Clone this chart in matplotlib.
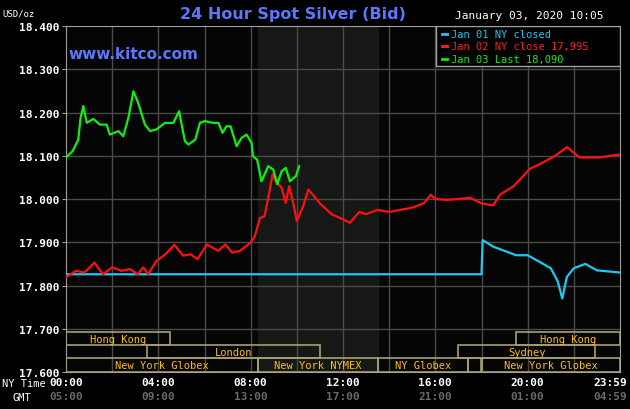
import matplotlib
matplotlib.use('Agg')
import matplotlib.pyplot as plt
from matplotlib.patches import Rectangle

# hours since 00:00 NY time, price in USD/oz
green_t = [0, 0.29, 0.53, 0.63, 0.75, 0.9, 1.18, 1.47, 1.76, 1.9, 2.27, 2.48, 2.7, 2.92, 3.13,
           3.42, 3.64, 3.92, 4.29, 4.65, 4.9, 5.15, 5.3, 5.6, 5.8, 6.0, 6.38, 6.6, 6.78, 6.95,
           7.13, 7.39, 7.6, 7.82, 8.04, 8.1, 8.28, 8.47, 8.76, 8.98, 9.15, 9.34, 9.52, 9.7, 9.96, 10.1]
green_v = [18.096, 18.111, 18.137, 18.187, 18.215, 18.176, 18.185, 18.172, 18.172, 18.149, 18.157,
           18.145, 18.187, 18.249, 18.222, 18.172, 18.157, 18.161, 18.176, 18.176, 18.203, 18.134,
           18.126, 18.137, 18.176, 18.18, 18.176, 18.176, 18.153, 18.168, 18.168, 18.122, 18.141,
           18.149, 18.13, 18.099, 18.091, 18.041, 18.076, 18.068, 18.034, 18.064, 18.072, 18.041,
           18.053, 18.076]

red_t = [0, 0.43, 0.8, 1.23, 1.6, 2.0, 2.4, 2.77, 3.1, 3.35, 3.56, 3.92, 4.3, 4.7, 5.07, 5.4, 5.7,
         6.1, 6.6, 6.9, 7.2, 7.53, 8.0, 8.18, 8.4, 8.6, 8.8, 8.95, 9.1, 9.34, 9.52, 9.67, 9.84, 10.0,
         10.27, 10.5, 11.0, 11.5, 12.0, 12.3, 12.7, 13.0, 13.5, 14.0, 14.5, 15.0, 15.5, 15.8, 16.0,
         16.5, 17.0, 17.5, 18.0, 18.5, 18.8, 19.4, 20.1, 20.5, 21.2, 21.7, 22.25, 23.1, 24.0]
red_v = [17.819, 17.834, 17.83, 17.853, 17.826, 17.842, 17.834, 17.838, 17.826, 17.842, 17.826,
         17.857, 17.872, 17.894, 17.869, 17.872, 17.861, 17.895, 17.88, 17.895, 17.876, 17.88,
         17.899, 17.914, 17.956, 17.96, 18.014, 18.057, 18.041, 18.026, 17.991, 18.03, 17.991,
         17.949, 17.983, 18.022, 17.99, 17.965, 17.953, 17.945, 17.97, 17.965, 17.975, 17.97,
         17.975, 17.98, 17.99, 18.01, 18.0, 17.998, 18.0, 18.003, 17.99, 17.985, 18.01, 18.03,
         18.07, 18.08, 18.1, 18.12, 18.096, 18.096, 18.103]

blue_t = [0, 18.0, 18.05, 18.5, 19.0, 19.5, 20.0, 20.5, 21.0, 21.3, 21.5, 21.7, 22.0, 22.5, 23.0, 24.0]
blue_v = [17.826, 17.826, 17.905, 17.89, 17.88, 17.87, 17.87, 17.855, 17.84, 17.81, 17.77, 17.82,
          17.84, 17.85, 17.835, 17.83]

# sessions: (label, start h, end h, row)
sessions = [
    ('Hong Kong', 0, 4.5, 2), ('Hong Kong', 19.5, 24, 2),
    ('London', 3.5, 11, 1), ('Sydney', 17, 22.9, 1),
    ('New York Globex', 0, 8.33, 0), ('New York NYMEX', 8.33, 13.5, 0),
    ('NY Globex', 13.5, 17.4, 0), ('', 17.4, 18, 0), ('New York Globex', 18, 24, 0),
]
row_y = [17.6, 17.632, 17.662, 17.692]

ny_ticks = ['00:00', '04:00', '08:00', '12:00', '16:00', '20:00', '23:59']
gmt_ticks = ['05:00', '09:00', '13:00', '17:00', '21:00', '01:00', '04:59']
y_ticks = [17.6, 17.7, 17.8, 17.9, 18.0, 18.1, 18.2, 18.3, 18.4]

mono = 'DejaVu Sans Mono'
fig = plt.figure(figsize=(6.3, 4.1), dpi=100, facecolor='black')
ax = fig.add_axes([66 / 630, 1 - 373 / 410, 554 / 630, 346 / 410])
ax.set_facecolor('#050505')
ax.set_xlim(0, 24)
ax.set_ylim(17.6, 18.4)

for h in range(2, 24, 2):
    ax.axvline(h, color='#4a4a4a', lw=1, zorder=1)
for y in y_ticks[1:-1]:
    ax.axhline(y, color='#4a4a4a', lw=1, zorder=1)
ax.axvspan(8.33, 13.5, color='#151815', zorder=0)

ax.plot(blue_t, blue_v, color='#1ec8f5', lw=1.6, zorder=3)
ax.plot(red_t, red_v, color='#ff1010', lw=1.6, zorder=4)
ax.plot(green_t, green_v, color='#10f010', lw=1.6, zorder=5)

for label, a, b, r in sessions:
    ax.add_patch(Rectangle((a, row_y[r]), b - a, row_y[r + 1] - row_y[r], fill=False,
                           edgecolor='#a8a070', lw=1.2, zorder=6))
    if label:
        ax.text((a + b) / 2, (row_y[r] + row_y[r + 1]) / 2, label, color='#ffc010',
                fontsize=7.5, family=mono, ha='center', va='center', zorder=7)

for s in ax.spines.values():
    s.set_color('#a0a0a0')
ax.set_xticks([])
ax.set_yticks(y_ticks)
ax.set_yticklabels(['%.3f' % v for v in y_ticks], color='white', fontsize=8,
                   family=mono, fontweight='bold')
ax.tick_params(axis='y', length=3, color='#a0a0a0', pad=2)

xs = [0, 4, 8, 12, 16, 20, 24]
for x, n, g in zip(xs, ny_ticks, gmt_ticks):
    ha = 'right' if x == 24 else 'center'
    xx = 24.3 if x == 24 else x
    ax.text(xx, -0.014, n, transform=ax.get_xaxis_transform(), color='white', fontsize=8,
            family=mono, fontweight='bold', ha=ha, va='top')
    ax.text(xx, -0.054, g, transform=ax.get_xaxis_transform(), color='#6a6a6a', fontsize=8,
            family=mono, fontweight='bold', ha=ha, va='top')
fig.text(2 / 630, 1 - 384 / 410, 'NY Time', color='white', fontsize=7.5, family=mono, va='center')
fig.text(12 / 630, 1 - 398 / 410, 'GMT', color='white', fontsize=7.5, family=mono, va='center')

fig.text(2 / 630, 1 - 14 / 410, 'USD/oz', color='white', fontsize=6.5, family=mono, va='center')
fig.text(293 / 630, 1 - 14 / 410, '24 Hour Spot Silver (Bid)', color='#5a78ff', fontsize=11.5,
         fontweight='bold', ha='center', va='center')
fig.text(455 / 630, 1 - 16 / 410, 'January 03, 2020 10:05', color='white', fontsize=8,
         family=mono, va='center')
ax.text(0.005, 0.92, 'www.kitco.com', transform=ax.transAxes, color='#5a78ff', fontsize=11,
        fontweight='bold', va='center')

legend = [('Jan 01 NY closed', '#1ec8f5'), ('Jan 02 NY close 17,995', '#ff2020'),
          ('Jan 03 Last 18,090', '#10f010')]
ax.add_patch(Rectangle((0.667, 0.883), 0.333, 0.117, transform=ax.transAxes,
                       facecolor='black', edgecolor='#a0a0a0', lw=1, zorder=8))
for i, (txt, c) in enumerate(legend):
    yy = 0.978 - i * 0.036
    ax.plot([0.678, 0.688], [yy, yy], transform=ax.transAxes, color=c, lw=2, zorder=9)
    ax.text(0.695, yy, txt, transform=ax.transAxes, color=c, fontsize=7.5, family=mono,
            va='center', zorder=9)

fig.savefig('out.png', dpi=100, facecolor='black')
